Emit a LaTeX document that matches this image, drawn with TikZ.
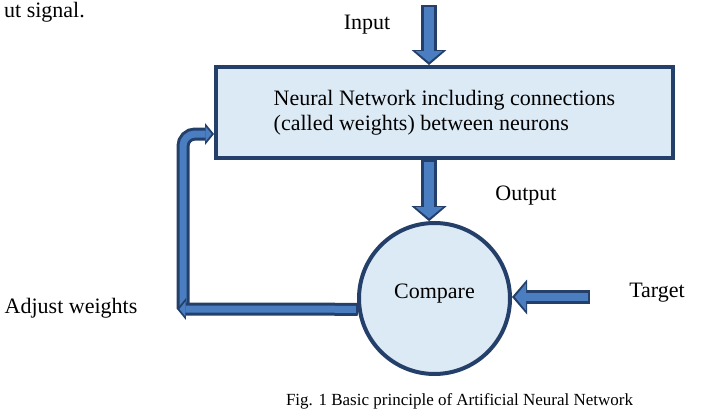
\documentclass[tikz,border=0pt]{standalone}
\usepackage{fontspec}
\setmainfont{Liberation Serif}
\usetikzlibrary{arrows.meta}
\definecolor{boxfill}{HTML}{DCEAF6}
\definecolor{rimblue}{HTML}{24406A}
\definecolor{coreblue}{HTML}{4A7EC0}
\tikzset{
 netbox/.style={draw=rimblue,fill=boxfill,line width=4pt,minimum width=457pt,minimum height=91pt,align=left,inner sep=0pt,font=\fontsize{22}{25}\selectfont},
 cmpball/.style={circle,draw=rimblue,fill=boxfill,line width=4pt,minimum size=151pt,inner sep=0pt,text height=15pt,text depth=15pt,font=\fontsize{22}{25}\selectfont},
 lbl/.style={anchor=base,font=\fontsize{22}{25}\selectfont},
 fatrim/.style={line width=16pt,rimblue,-{Triangle[length=15pt,width=35pt,line width=0pt]}},
 fatcore/.style={line width=10pt,coreblue,shorten >=3pt,shorten <=2pt,-{Triangle[length=11pt,width=27pt,line width=0pt]}},
 thinrim/.style={line width=13pt,rimblue,rounded corners=12pt,-{Triangle[length=9pt,width=22pt,line width=0pt]}},
 thincore/.style={line width=7pt,coreblue,rounded corners=12pt,shorten >=2.5pt,shorten <=2pt,-{Triangle[length=6pt,width=15pt,line width=0pt]}}
}
\begin{document}
\begin{tikzpicture}[x=1pt,y=-1pt]
 \useasboundingbox (0,0) rectangle (721,415);
 \node[lbl,anchor=base east,inner sep=0pt] (prev) at (85,17) {ut signal.};
 \node[netbox] (net) at (444.5,112.5) {Neural Network including connections\\(called weights) between neurons};
 \node[cmpball] (cmp) at (434.5,298.5) {Compare};
 \node[lbl] (inlbl) at (367,30) {Input};
 \node[lbl] (outlbl) at (526,200) {Output};
 \node[lbl] (tgtlbl) at (657,297) {Target};
 \node[lbl] (adjlbl) at (71,313) {Adjust weights};
 \node[anchor=base,font=\fontsize{17}{20}\selectfont] (cap) at (459.5,405) {Fig. 1 Basic principle of Artificial Neural Network};
 \coordinate (in) at (429,5);
 \coordinate (tgt) at (590,297);
 \coordinate (adj) at (177,309);
 \coordinate (fb) at (183,134);
 \draw[fatrim] (in) -- (in |- net.north);
 \draw[fatcore] (in) -- (in |- net.north);
 \draw[fatrim] (net.south -| cmp.94) -- (cmp.94);
 \draw[fatcore] (net.south -| cmp.94) -- (cmp.94);
 \draw[fatrim,line width=14pt] (tgt) -- (tgt -| cmp.east);
 \draw[fatcore,line width=8pt] (tgt) -- (tgt -| cmp.east);
 \draw[thinrim] (fb |- adj) -- (fb) -- (fb -| net.west);
 \draw[thincore] (fb |- adj) -- (fb) -- (fb -| net.west);
 \draw[thinrim] (cmp.188) -- (adj);
 \draw[thincore] (cmp.188) -- (adj);
\end{tikzpicture}
\end{document}
